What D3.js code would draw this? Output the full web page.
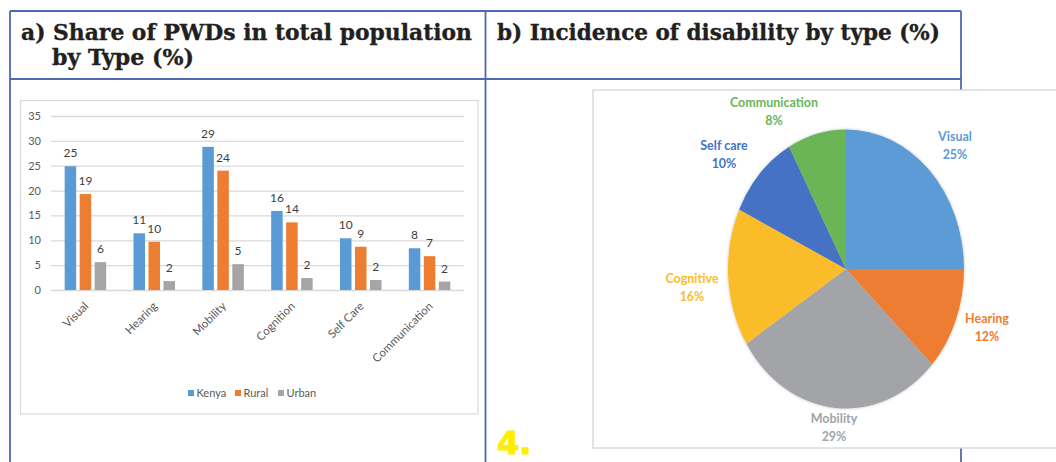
<!DOCTYPE html>
<html>
<head>
<meta charset="utf-8">
<script src="https://cdn.jsdelivr.net/npm/d3@7"></script>
<style>
  html, body { margin: 0; padding: 0; background: #fff; }
  svg { display: block; }
</style>
</head>
<body>
<svg id="fig" width="1056" height="462"></svg>
<script>
// ---- data ----
const categories = ["Visual", "Hearing", "Mobility", "Cognition", "Self Care", "Communication"];
const seriesNames = ["Kenya", "Rural", "Urban"];
const kenya = [24.9, 11.4, 28.8, 15.9, 10.4, 8.4];
const rural = [19.3, 9.7, 24.0, 13.6, 8.7, 6.8];
const urban = [5.6, 1.8, 5.2, 2.4, 2.0, 1.7];
const yTicks = [0, 5, 10, 15, 20, 25, 30, 35];

const pieLabels = ["Visual", "Hearing", "Mobility", "Cognitive", "Self care", "Communication"];
const pieShares = [25, 12, 29, 16, 10, 8];

// ---- styling ----
const seriesColors = ["#5b9bd5", "#ed7d31", "#a5a5a5"];
const pieColors = ["#5b9bd5", "#ed7d31", "#a2a4a8", "#fbbc2a", "#4472c4", "#6ab557"];
const tableBlue = "#5068b1";
const sansFont = "Lato, 'Open Sans', sans-serif";

const svg = d3.select("#fig");

// ---- table frame ----
const frame = svg.append("g").attr("fill", "none").attr("stroke", tableBlue).attr("stroke-width", 1.8);
frame.append("line").attr("x1", 10).attr("x2", 961).attr("y1", 11).attr("y2", 11);
frame.append("line").attr("x1", 10).attr("x2", 961).attr("y1", 79).attr("y2", 79);
frame.append("line").attr("x1", 10).attr("x2", 10).attr("y1", 11).attr("y2", 462);
frame.append("line").attr("x1", 485.5).attr("x2", 485.5).attr("y1", 11).attr("y2", 462);
frame.append("line").attr("x1", 961).attr("x2", 961).attr("y1", 11).attr("y2", 462);

// ---- headers ----
const titleFont = "'DejaVu Serif', 'Liberation Serif', serif";
function title(txt, x, y, len) {
  svg.append("text").attr("x", x).attr("y", y)
    .attr("font-family", titleFont).attr("font-weight", "bold")
    .attr("font-size", 22).attr("fill", "#231f20")
    .attr("stroke", "#231f20").attr("stroke-width", 0.35)
    .attr("textLength", len).attr("lengthAdjust", "spacingAndGlyphs")
    .text(txt);
}
title("a) Share of PWDs in total population", 21, 40, 451);
title("by Type (%)", 52, 65, 142);
title("b) Incidence of disability by type (%)", 497, 40, 443);

// ---- panel a: clustered bars ----
const bar = svg.append("g");
bar.append("rect").attr("x", 20.5).attr("y", 100.5).attr("width", 457.5).attr("height", 313.5)
  .attr("fill", "#fff").attr("stroke", "#d9d9d9").attr("stroke-width", 1.2);

const x0 = d3.scaleBand().domain(categories).range([51, 464]);
const x1 = d3.scaleBand().domain(seriesNames)
  .range([(x0.bandwidth() - 41.5) / 2, (x0.bandwidth() + 41.5) / 2]).paddingInner(0.233);
const y = d3.scaleLinear().domain([0, 35]).range([290, 116]);

const yAxis = bar.append("g").attr("transform", "translate(51,0)")
  .call(d3.axisLeft(y).tickValues(yTicks).tickSize(-413).tickPadding(10));
yAxis.select(".domain").remove();
yAxis.selectAll(".tick line").attr("stroke", "#d9d9d9").attr("stroke-width", 1.3);
yAxis.selectAll(".tick text").attr("font-family", sansFont).attr("font-size", 11).attr("fill", "#595959");

const seriesData = [kenya, rural, urban];
const rows = categories.map((c, i) => ({ cat: c, vals: seriesNames.map((s, j) => ({ s, v: seriesData[j][i], j })) }));
const groups = bar.selectAll("g.grp").data(rows).join("g").attr("class", "grp")
  .attr("transform", d => `translate(${x0(d.cat)},0)`);
groups.selectAll("rect").data(d => d.vals).join("rect")
  .attr("x", d => x1(d.s)).attr("width", x1.bandwidth())
  .attr("y", d => y(d.v)).attr("height", d => y(0) - y(d.v))
  .attr("fill", d => seriesColors[d.j]);
const fmt = d3.format(".0f");
groups.selectAll("text").data(d => d.vals).join("text")
  .attr("x", d => x1(d.s) + x1.bandwidth() / 2).attr("y", d => y(d.v) - 9)
  .attr("text-anchor", "middle").attr("font-family", sansFont).attr("font-size", 12)
  .attr("fill", "#404040").text(d => fmt(d.v));

// rotated category labels
bar.selectAll("text.cat").data(categories).join("text").attr("class", "cat")
  .attr("transform", d => `translate(${x0(d) + x0.bandwidth() / 2 + 1},${304}) rotate(-45)`)
  .attr("text-anchor", "end").attr("dy", "0.35em")
  .attr("font-family", sansFont).attr("font-size", 11.5).attr("fill", "#595959")
  .text(d => d);

// legend
const legendX = [188, 235, 278];
const lg = bar.selectAll("g.leg").data(seriesNames).join("g").attr("class", "leg")
  .attr("transform", (d, i) => `translate(${legendX[i]},390)`);
lg.append("rect").attr("width", 6).attr("height", 6).attr("fill", (d, i) => seriesColors[i]);
lg.append("text").attr("x", 8.5).attr("y", 7).attr("font-family", sansFont).attr("font-size", 11)
  .attr("fill", "#595959").text(d => d);

// ---- panel b: pie ----
const pieBox = svg.append("g");
pieBox.append("rect").attr("x", 593).attr("y", 90).attr("width", 480).attr("height", 358)
  .attr("fill", "#fff").attr("stroke", "#d6d6d6").attr("stroke-width", 1.3);

const defs = svg.append("defs");
const sh = defs.append("filter").attr("id", "soft").attr("x", "-10%").attr("y", "-10%").attr("width", "120%").attr("height", "120%");
sh.append("feDropShadow").attr("dx", 0).attr("dy", 0).attr("stdDeviation", 1.5)
  .attr("flood-color", "#000").attr("flood-opacity", 0.25);

const cx = 846, cy = 269, rx = 118, ry = 139.5;
const pie = d3.pie().sort(null).value(d => d.v);
const arcs = pie(pieLabels.map((l, i) => ({ l, v: pieShares[i], i })));
const arc = d3.arc().innerRadius(0).outerRadius(1);
// shadow filter sits on an unscaled wrapper so the blur stays in pixels
const pieWrap = pieBox.append("g").attr("filter", "url(#soft)");
const pieG = pieWrap.append("g").attr("transform", `translate(${cx},${cy}) scale(${rx},${ry})`);
pieG.selectAll("path").data(arcs).join("path")
  .attr("d", arc).attr("fill", d => pieColors[d.data.i]);

// pie labels
const labelPos = [[955, 137], [987, 319], [834, 419], [692, 279], [724, 146], [774, 103]];
const pl = pieBox.selectAll("g.pl").data(arcs).join("g").attr("class", "pl")
  .attr("transform", d => `translate(${labelPos[d.data.i][0]},${labelPos[d.data.i][1]})`)
  .attr("font-family", sansFont).attr("font-weight", "bold").attr("font-size", 12.5)
  .attr("text-anchor", "middle").attr("fill", d => pieColors[d.data.i]);
pl.append("text").attr("y", 4).text(d => d.data.l);
pl.append("text").attr("y", 22).text(d => d.data.v + "%");

// ---- page number ----
svg.append("text").attr("x", 497).attr("y", 454)
  .attr("font-family", "'DejaVu Sans', sans-serif").attr("font-weight", "bold")
  .attr("font-size", 32).attr("fill", "#ffee00")
  .attr("stroke", "#ffee00").attr("stroke-width", 1.2).text("4.");
</script>
</body>
</html>
